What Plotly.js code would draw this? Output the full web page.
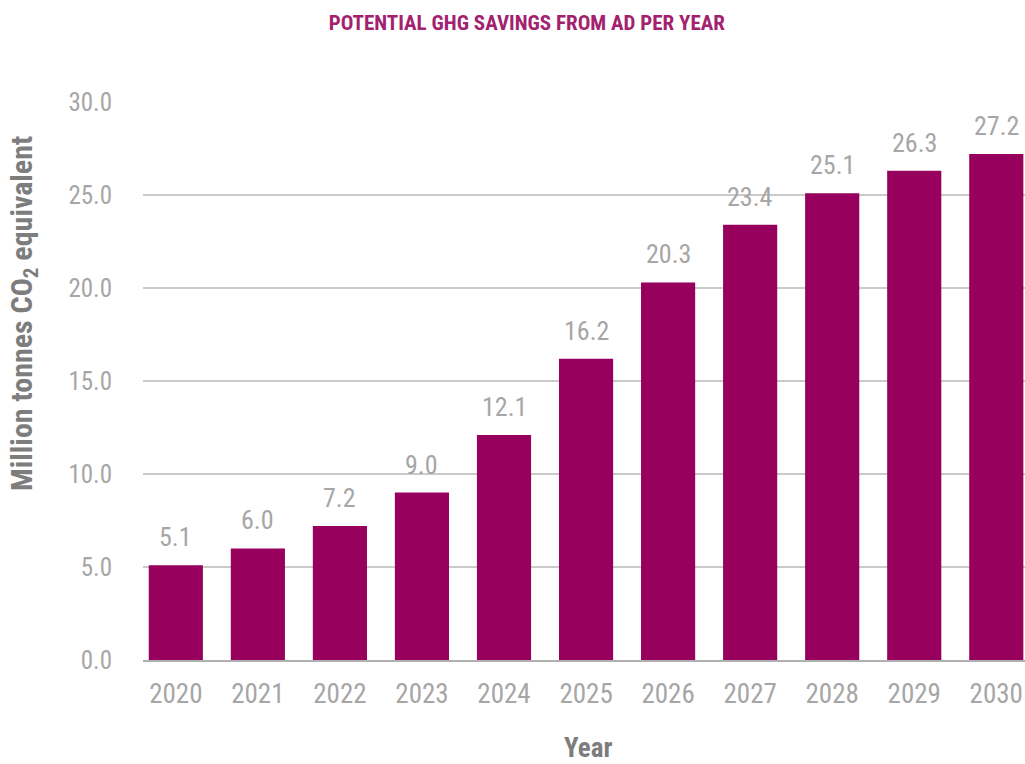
<!DOCTYPE html>
<html>
<head>
<meta charset="utf-8">
<script src="https://cdn.plot.ly/plotly-3.0.1.min.js"></script>
<style>html,body{margin:0;padding:0;background:#fff;}#chart{width:1025px;height:764px;}</style>
</head>
<body>
<div id="chart"></div>
<script>
const years = ['2020','2021','2022','2023','2024','2025','2026','2027','2028','2029','2030'];
const savings = [5.1, 6.0, 7.2, 9.0, 12.1, 16.2, 20.3, 23.4, 25.1, 26.3, 27.2];
const yTicks = [0, 5, 10, 15, 20, 25, 30];

const FONT = '"Roboto Condensed", "Liberation Sans Narrow", Roboto, Arial, sans-serif';
const LABEL_GREY = '#a6a6a6';
const TITLE_GREY = '#7d7d7d';

const valueLabels = years.map((yr, i) => ({
  x: i, y: savings[i], xref: 'x', yref: 'y',
  text: savings[i].toFixed(1), showarrow: false,
  xanchor: 'center', yanchor: 'bottom', yshift: 11,
  font: {family: FONT, size: 26, color: LABEL_GREY}
}));

const axisTitles = [
  {
    xref: 'paper', yref: 'paper', x: -0.136, y: 0.62,
    xanchor: 'center', yanchor: 'middle', textangle: -90, showarrow: false,
    text: 'Million tonnes CO<sub>2</sub> equivalent',
    font: {family: FONT, size: 30, color: TITLE_GREY, weight: 'bold'}
  },
  {
    xref: 'paper', yref: 'paper', x: 0.5045, y: -0.158,
    xanchor: 'center', yanchor: 'middle', showarrow: false,
    text: 'Year',
    font: {family: FONT, size: 27, color: TITLE_GREY, weight: 'bold'}
  }
];

const trace = {
  type: 'bar', x: years, y: savings,
  marker: {color: '#98005d'},
  hoverinfo: 'x+y'
};

const layout = {
  width: 1025, height: 764,
  margin: {l: 143, r: 0, t: 102, b: 104},
  paper_bgcolor: '#ffffff', plot_bgcolor: '#ffffff',
  bargap: 0.34,
  showlegend: false,
  title: {
    text: 'POTENTIAL GHG SAVINGS FROM AD PER YEAR',
    font: {family: FONT, size: 21, color: '#a3226f', weight: 'bold'},
    x: 0.514, xref: 'container', xanchor: 'center',
    y: 0.971, yref: 'container', yanchor: 'middle'
  },
  xaxis: {
    type: 'category',
    range: [-0.40, 10.35],
    showgrid: false, zeroline: false,
    showline: true, linecolor: '#b0b0b0', linewidth: 2,
    ticks: '', ticklabelstandoff: 9,
    tickfont: {family: FONT, size: 27, color: LABEL_GREY}
  },
  yaxis: {
    range: [0, 30],
    tickvals: yTicks,
    ticktext: yTicks.map(v => v.toFixed(1)),
    showgrid: true, gridcolor: '#cacaca', gridwidth: 1.6,
    zeroline: false, showline: false,
    ticks: '', ticklabelstandoff: 30,
    tickfont: {family: FONT, size: 25, color: LABEL_GREY}
  },
  annotations: valueLabels.concat(axisTitles)
};

Plotly.newPlot('chart', [trace], layout, {displayModeBar: false, staticPlot: true});
</script>
</body>
</html>
